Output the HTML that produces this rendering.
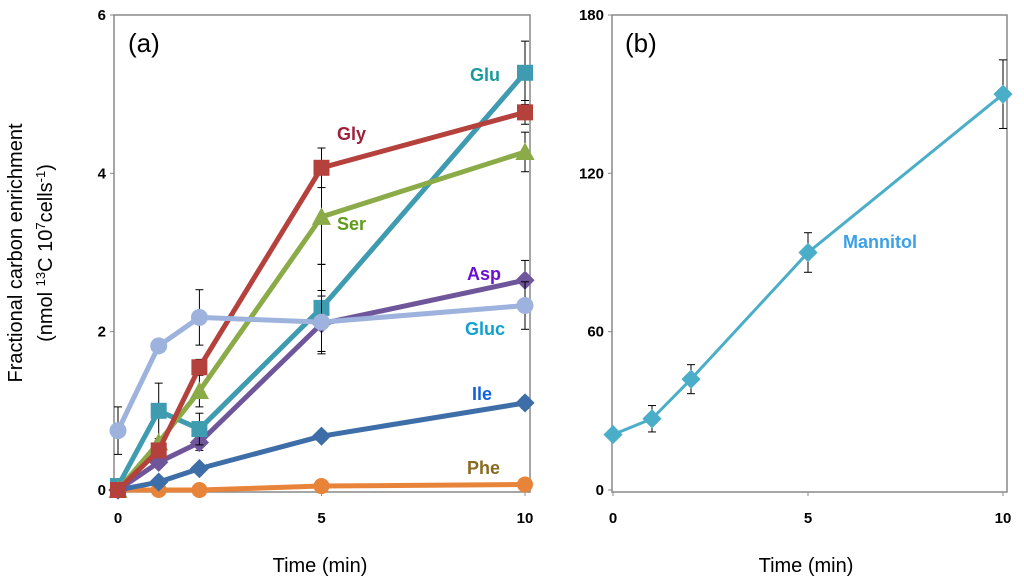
<!DOCTYPE html>
<html><head><meta charset="utf-8"><style>
body{margin:0;background:#fff;}
svg{font-family:"Liberation Sans",sans-serif;}
</style></head><body>
<svg width="1024" height="583" viewBox="0 0 1024 583">
<g id="axes"></g>
<g id="marks"></g>
<text x="22" y="253" font-size="20" text-anchor="middle" transform="rotate(-90 22 253)">Fractional carbon enrichment</text>
<text x="52" y="253" font-size="20" text-anchor="middle" transform="rotate(-90 52 253)">(nmol <tspan font-size="13" dy="-7">13</tspan><tspan dy="7">C 10</tspan><tspan font-size="13" dy="-7">7</tspan><tspan dy="7">cells</tspan><tspan font-size="13" dy="-7">-1</tspan><tspan dy="7">)</tspan></text>
<text x="320" y="572" font-size="20" text-anchor="middle">Time (min)</text>
<text x="806" y="572" font-size="20" text-anchor="middle">Time (min)</text>
<text x="128" y="52" font-size="26">(a)</text>
<text x="625" y="52" font-size="26">(b)</text>
</svg>
<script>
const times=[0,1,2,5,10];
const seriesNames=['Gluc','Gly','Ser','Glu','Asp','Ile','Phe'];
const gly=[0,0.5,1.55,4.07,4.77];
const ser=[0,0.6,1.25,3.45,4.27];
const glu=[0.05,1.0,0.77,2.3,5.27];
const asp=[0,0.35,0.6,2.1,2.65];
const gluc=[0.75,1.82,2.18,2.12,2.33];
const ile=[0,0.1,0.27,0.68,1.1];
const phe=[0,0,0,0.05,0.07];
const glyErr=[0,0,0.1,0.25,0.15];
const serErr=[0,0,0.2,0.6,0.25];
const gluErr=[0,0.35,0.2,0.55,0.4];
const aspErr=[0,0,0.1,0.35,0.25];
const glucErr=[0.3,0,0.35,0.4,0.3];
const ileErr=[0,0,0.05,0,0.07];
const pheErr=[0,0,0,0,0];
const mannitol=[21,27,42,90,150];
const mannitolErr=[0,5,5.5,7.5,13];
const yTicksA=[0,2,4,6];
const yTicksB=[0,60,120,180];
const xTicks=[0,5,10];

const NS='http://www.w3.org/2000/svg';
const axes=document.getElementById('axes'),marks=document.getElementById('marks');
function mk(tag,attrs,parent){const e=document.createElementNS(NS,tag);for(const k in attrs)e.setAttribute(k,attrs[k]);parent.appendChild(e);return e;}
const PA={l:114,r:530,t:15,b:492,x0:118,x1:525,ymax:6};
const PB={l:612,r:1007,t:15,b:492,x0:613,x1:1003,ymax:180};
function sx(p,v){return p.x0+(p.x1-p.x0)*v/10;}
function sy(p,v){return 490-(490-15)*v/p.ymax;}
function drawAxes(p,ticks,name){
  const f=mk('rect',{x:p.l,y:p.t,width:p.r-p.l,height:p.b-p.t,fill:'none',stroke:'#888','stroke-width':1.5},axes);
  
  ticks.forEach(v=>{const y=sy(p,v);mk('line',{x1:p.l-4,x2:p.l,y1:y,y2:y,stroke:'#888'},axes);
    const t=mk('text',{x:p.l-8,y:y+5,'font-size':15,'font-weight':'bold','text-anchor':'end'},axes);t.textContent=v;
    });
  xTicks.forEach(v=>{const x=sx(p,v);mk('line',{x1:x,x2:x,y1:p.b,y2:p.b+4,stroke:'#888'},axes);
    const t=mk('text',{x:x,y:p.b+31,'font-size':15,'font-weight':'bold','text-anchor':'middle'},axes);t.textContent=v;
    });
}
drawAxes(PA,yTicksA,'panel-a');drawAxes(PB,yTicksB,'panel-b');
function marker(shape,x,y,c,s,g){
  let e;
  if(shape==='circle')e=mk('circle',{cx:x,cy:y,r:s,fill:c},g);
  else if(shape==='square')e=mk('rect',{x:x-s,y:y-s,width:2*s,height:2*s,fill:c},g);
  else if(shape==='tri')e=mk('polygon',{points:`${x},${y-s*1.2} ${x-s*1.2},${y+s} ${x+s*1.2},${y+s}`,fill:c},g);
  else e=mk('polygon',{points:`${x},${y-s*1.2} ${x+s*1.2},${y} ${x},${y+s*1.2} ${x-s*1.2},${y}`,fill:c},g);
  
}
function series(p,vals,errs,color,shape,name,sw,ms){
  const g=mk('g',{},marks);
  vals.forEach((v,i)=>{if(errs[i]>0){const x=sx(p,times[i]),y1=sy(p,v+errs[i]),y2=sy(p,v-errs[i]);
    mk('line',{x1:x,x2:x,y1:y1,y2:y2,stroke:'#000','stroke-width':1},g);
    mk('line',{x1:x-4,x2:x+4,y1:y1,y2:y1,stroke:'#000','stroke-width':1},g);
    mk('line',{x1:x-4,x2:x+4,y1:y2,y2:y2,stroke:'#000','stroke-width':1},g);}});
  const pts=vals.map((v,i)=>sx(p,times[i])+','+sy(p,v)).join(' ');
  const l=mk('polyline',{points:pts,fill:'none',stroke:color,'stroke-width':sw,'stroke-linejoin':'round'},g);
  
  vals.forEach((v,i)=>marker(shape,sx(p,times[i]),sy(p,v),color,ms,g));
}
series(PA,phe,pheErr,'#e8843a','circle','phe',5,8);
series(PA,ile,ileErr,'#3e6ea8','diamond','ile',5,8);
series(PA,asp,aspErr,'#6f5599','diamond','asp',5,8);
series(PA,glu,gluErr,'#3f9bb0','square','glu',5,8);
series(PA,ser,serErr,'#8aab47','tri','ser',5,8);
series(PA,gly,glyErr,'#b5413d','square','gly',5,8);
series(PA,gluc,glucErr,'#9db3dd','circle','gluc',5,8.5);
series(PB,mannitol,mannitolErr,'#4aaec8','diamond','mannitol',3,8);
const labels=[['Glu',470,81,'#1a9a9a'],['Gly',337,140,'#a0203a'],['Ser',337,230,'#5f9a1a'],['Asp',467,280,'#6a10d0'],['Gluc',465,335,'#10a0d0'],['Ile',472,400,'#1060e0'],['Phe',467,474,'#8a6a20'],['Mannitol',843,248,'#3aa0e8']];
labels.forEach(a=>{const t=mk('text',{x:a[1],y:a[2],'font-size':18,'font-weight':'bold',fill:a[3]},marks);t.textContent=a[0];
  });
</script>
</body></html>
